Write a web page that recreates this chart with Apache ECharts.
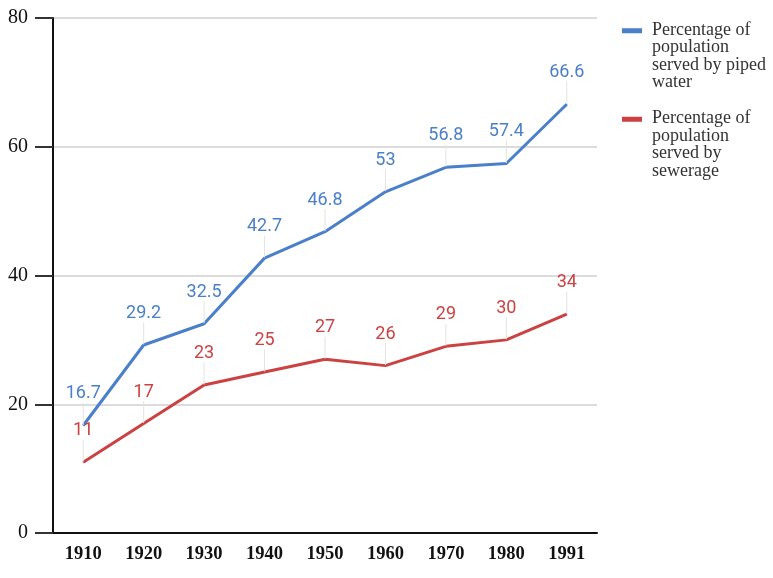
<!DOCTYPE html>
<html>
<head>
<meta charset="utf-8">
<script src="https://cdn.jsdelivr.net/npm/echarts@6/dist/echarts.min.js"></script>
<style>html,body{margin:0;padding:0;background:#fff;}#c{width:773px;height:578px;}</style>
</head>
<body>
<div id="c"></div>
<script>
const years = ['1910','1920','1930','1940','1950','1960','1970','1980','1991'];
const pipedWater = [16.7, 29.2, 32.5, 42.7, 46.8, 53, 56.8, 57.4, 66.6];
const sewerage = [11, 17, 23, 25, 27, 26, 29, 30, 34];
const yTicks = [0, 20, 40, 60, 80];
const seriesNames = ['Percentage of\npopulation\nserved by piped\nwater', 'Percentage of\npopulation\nserved by\nsewerage'];

const chart = echarts.init(document.getElementById('c'));
function mk(name, data, color) {
  return {
    name: name, type: 'line', data: data,
    symbol: 'circle', symbolSize: 1, showSymbol: true,
    lineStyle: {color: color, width: 3},
    itemStyle: {color: color},
    label: {show: true, position: 'top', distance: 5, color: color,
      fontFamily: 'Roboto', fontSize: 18},
    labelLayout: {dy: -17},
    labelLine: {show: true, lineStyle: {color: '#e3e3e3', width: 1}},
    emphasis: {disabled: true},
    animation: false
  };
}
chart.setOption({
  animation: false,
  grid: {left: 53, right: 176, top: 18, bottom: 45},
  legend: {
    orient: 'vertical', left: 617, top: 16, itemGap: 18,
    itemWidth: 20, itemHeight: 56,
    icon: 'path://M0,0 L20,0 L20,5 L0,5 Z M0,55.99 L0.01,56 L0,56 Z',
    textStyle: {fontFamily: 'Liberation Serif', fontSize: 18, lineHeight: 17.5, color: '#333', padding: [0, 0, 0, 5]},
    itemStyle: {borderWidth: 0},
    data: seriesNames
  },
  xAxis: {
    type: 'category', data: years, boundaryGap: true,
    axisLine: {lineStyle: {color: '#111', width: 2}},
    axisTick: {alignWithLabel: true, length: 10, lineStyle: {color: '#111', width: 2}},
    axisLabel: {fontFamily: 'Liberation Serif', fontWeight: 'bold', fontSize: 18.5, color: '#111', margin: 12}
  },
  yAxis: {
    type: 'value', min: yTicks[0], max: yTicks[yTicks.length-1], interval: 20,
    axisLine: {show: true, lineStyle: {color: '#111', width: 2}},
    axisTick: {show: true, length: 18, lineStyle: {color: '#333', width: 2}},
    axisLabel: {fontFamily: 'Liberation Serif', fontSize: 20, color: '#111', margin: 25},
    splitLine: {lineStyle: {color: '#d0d0d0', width: 1.5}}
  },
  series: [mk(seriesNames[0], pipedWater, '#4a7fc9'), mk(seriesNames[1], sewerage, '#cc4141')]
});
</script>
</body>
</html>
